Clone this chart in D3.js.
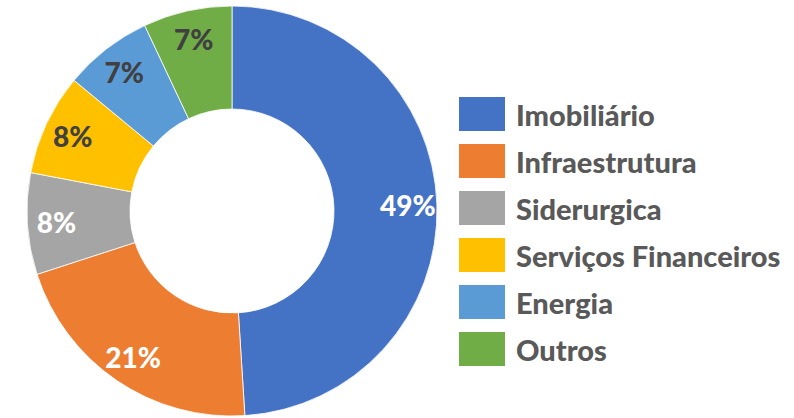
<!DOCTYPE html>
<html><head><meta charset="utf-8">
<script src="https://cdn.jsdelivr.net/npm/d3@7"></script>
<style>body{margin:0;background:#fff}svg{display:block}</style>
</head><body>
<svg id="c" width="794" height="418"></svg>
<script>
const categories = ["Imobiliário","Infraestrutura","Siderurgica","Serviços Financeiros","Energia","Outros"];
const values = [49, 21, 8, 8, 7, 7];
const labels = ["49%","21%","8%","8%","7%","7%"];
const colors = ["#4472C4","#ED7D31","#A5A5A5","#FFC000","#5B9BD5","#70AD47"];
const labelColors = ["#ffffff","#ffffff","#ffffff","#404040","#404040","#404040"];

const svg = d3.select("#c");
const cx = 232, cy = 211, rOut = 205, rIn = 102;
const font = "Lato, 'Open Sans', sans-serif";

const pie = d3.pie().sort(null).value(d => d)(values);
const arc = d3.arc().innerRadius(rIn).outerRadius(rOut);
const labelArc = d3.arc().innerRadius(176).outerRadius(176);

const g = svg.append("g").attr("transform", `translate(${cx},${cy})`);
g.selectAll("path").data(pie).join("path")
  .attr("d", arc)
  .attr("fill", (d,i) => colors[i])
  .attr("stroke", "#ffffff").attr("stroke-width", 0.8);

g.selectAll("text").data(pie).join("text")
  .attr("transform", d => `translate(${labelArc.centroid(d)})`)
  .attr("text-anchor", "middle").attr("dominant-baseline", "central")
  .attr("font-family", font).attr("font-weight", "900").attr("font-size", 28)
  .attr("fill", (d,i) => labelColors[i])
  .text((d,i) => labels[i]);

const y = d3.scaleBand().domain(categories).range([97, 97 + 47*6]).paddingInner(0);
const lg = svg.append("g");
const rows = lg.selectAll("g").data(categories).join("g")
  .attr("transform", d => `translate(459,${y(d)})`);
rows.append("rect").attr("width", 46).attr("height", 34).attr("fill", (d,i) => colors[i]);
rows.append("text").attr("x", 57).attr("y", 17).attr("dominant-baseline", "central")
  .attr("font-family", font).attr("font-weight", "900").attr("font-size", 29)
  .attr("fill", "#595959").text(d => d);
</script>
</body></html>
